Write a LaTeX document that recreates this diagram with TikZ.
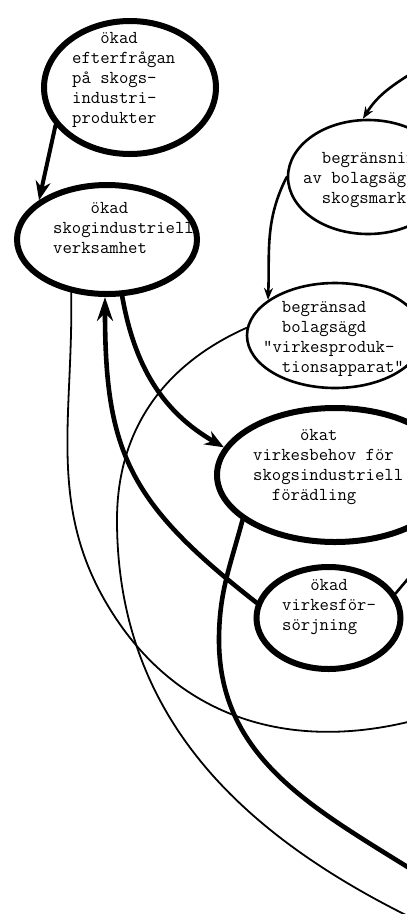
\documentclass[tikz,border=0pt]{standalone}
\usepackage{fontspec}
\usetikzlibrary{shapes.geometric,arrows.meta}
\begin{document}
\begin{tikzpicture}[x=1pt,y=1pt,
  blob/.style={draw=black, ellipse, inner sep=0pt},
  heavy/.style={blob, line width=6pt},
  light/.style={blob, line width=2.6pt},
  txt/.style={anchor=base west, inner sep=0pt, font=\ttfamily\fontsize{18.2pt}{20pt}\selectfont},
  thickc/.style={line width=4.6pt, line cap=round},
  midc/.style={line width=2.6pt, line cap=round},
  thinc/.style={line width=1.8pt, line cap=round},
  bighead/.style={-{Stealth[length=19pt,width=15pt]}},
  longhead/.style={-{Stealth[length=24pt,width=16pt]}},
  smallhead/.style={-{Stealth[length=12pt,width=9pt]}}
]
\useasboundingbox (0,0) rectangle (407,-914);
\clip (0,0) rectangle (407,-914);
\fill[white] (0,0) rectangle (407,-914);

% ellipses
\node[heavy, minimum width=172pt, minimum height=133pt] (T) at (130,-87.5) {};
\node[heavy, minimum width=180pt, minimum height=109pt] (S) at (107,-239.5) {};
\node[light, minimum width=160pt, minimum height=114pt] (B1) at (368,-177) {};
\node[light, minimum width=176pt, minimum height=105pt] (B2) at (335,-335.5) {};
\node[heavy, minimum width=236pt, minimum height=134pt] (V) at (335,-475) {};
\node[heavy, minimum width=144pt, minimum height=102pt] (F) at (328.5,-618) {};

% texts
\node[txt] (Tt) at (72,-43) {\begin{tabular}[t]{@{}l@{}}\phantom{xxx}ökad\\efterfrågan\\på skogs-\\industri-\\produkter\end{tabular}};
\node[txt] (St) at (53,-213) {\begin{tabular}[t]{@{}l@{}}\phantom{xxxx}ökad\\skogindustriell\\verksamhet\end{tabular}};
\node[txt] (B1t) at (303,-163) {\begin{tabular}[t]{@{}l@{}}\phantom{xx}begränsning\\av bolagsägd\\\phantom{xx}skogsmark\end{tabular}};
\node[txt] (B2t) at (263,-312) {\begin{tabular}[t]{@{}l@{}}\phantom{xx}begränsad\\\phantom{xx}bolagsägd\\"virkesproduk-\\\phantom{xx}tionsapparat"\end{tabular}};
\node[txt] (Vt) at (253,-440) {\begin{tabular}[t]{@{}l@{}}\phantom{xxxxx}ökat\\virkesbehov för\\skogsindustriell\\\phantom{xx}förädling\end{tabular}};
\node[txt] (Ft) at (282,-590) {\begin{tabular}[t]{@{}l@{}}\phantom{xxx}ökad\\virkesför-\\sörjning\end{tabular}};

% free ends and waypoints
\coordinate (inR) at (412,-73);
\coordinate (b1) at (117,-520);
\coordinate (bEnd) at (416,-920);
\coordinate (a1) at (117,-620);
\coordinate (aEnd) at (412,-721);
\coordinate (e1) at (219,-640);
\coordinate (eEnd) at (414,-871);
\coordinate (fR) at (412,-574);

% connectors
\draw[line width=4pt, line cap=round, bighead] (T.207) -- (S.150);
\draw[midc, smallhead] (inR) to[out=212,in=58] (B1.95);
\draw[midc, smallhead] (B1.180) to[out=-117,in=88] (B2.152);
\draw[thinc] (B2.175) to[out=204,in=90] (b1) to[out=-90,in=154] (bEnd);
\draw[thinc] (S.236) to[out=-89,in=124] (a1) to[out=-56,in=194] (aEnd);
\draw[thickc, bighead] (S.285) to[out=-80,in=150] (V.166);
\draw[thickc, longhead] (F.168) to[out=142,in=-90,out distance=161pt,in distance=156pt] (S.268);
\draw[thickc] (V.206) to[out=-105,in=90] (e1) to[out=-90,in=148] (eEnd);
\draw[midc] (F.20) -- (fR);
\end{tikzpicture}
\end{document}
